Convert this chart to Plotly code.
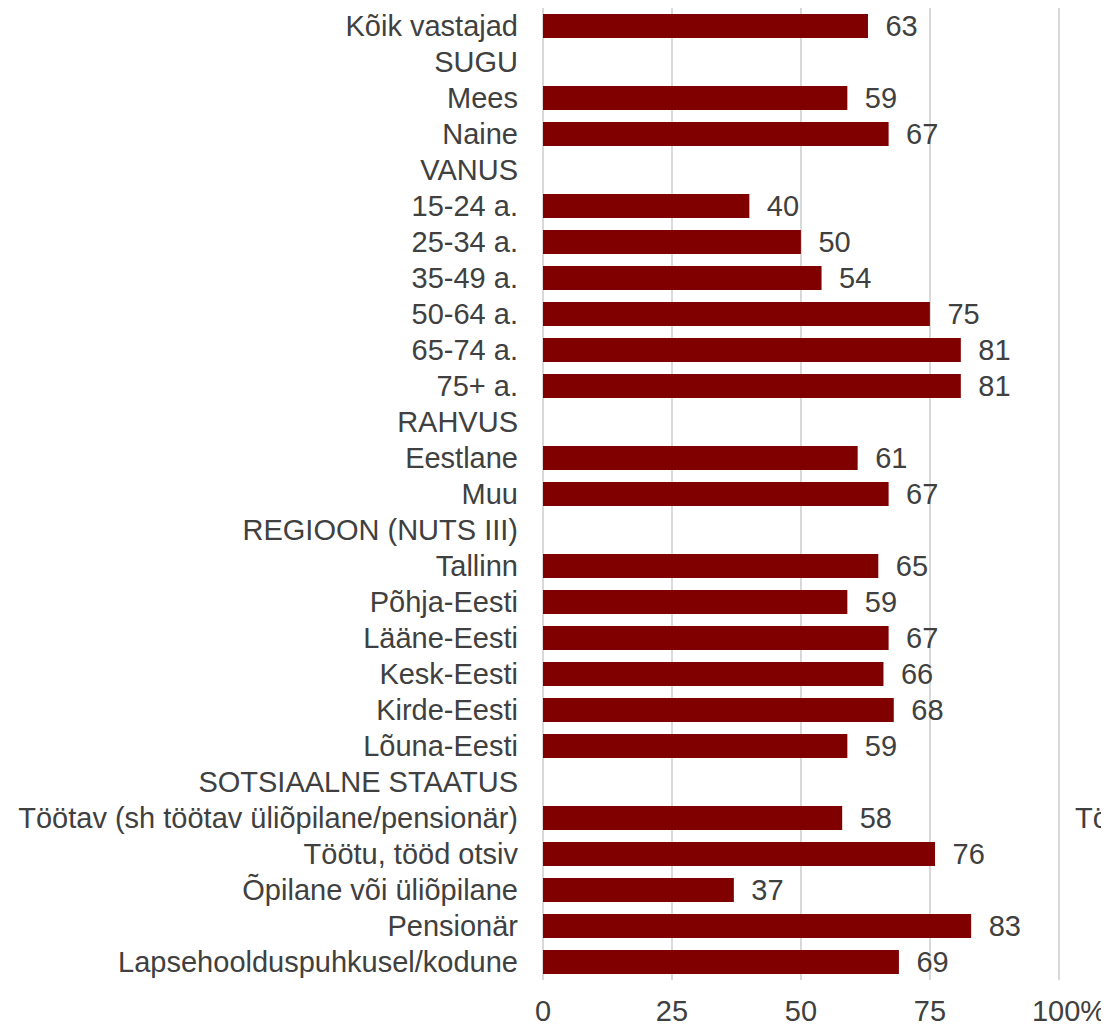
import plotly.graph_objects as go

categories = [
    "Kõik vastajad", "SUGU", "Mees", "Naine", "VANUS",
    "15-24 a.", "25-34 a.", "35-49 a.", "50-64 a.", "65-74 a.", "75+ a.",
    "RAHVUS", "Eestlane", "Muu", "REGIOON (NUTS III)",
    "Tallinn", "Põhja-Eesti", "Lääne-Eesti", "Kesk-Eesti", "Kirde-Eesti", "Lõuna-Eesti",
    "SOTSIAALNE STAATUS",
    "Töötav (sh töötav üliõpilane/pensionär)", "Töötu, tööd otsiv",
    "Õpilane või üliõpilane", "Pensionär", "Lapsehoolduspuhkusel/kodune",
]
values = [
    63, None, 59, 67, None,
    40, 50, 54, 75, 81, 81,
    None, 61, 67, None,
    65, 59, 67, 66, 68, 59,
    None,
    58, 76, 37, 83, 69,
]
tick_vals = [0, 25, 50, 75, 100]
tick_text = ["0", "25", "50", "75", "\u2002\u2009100%"]
side_text = "Tö"

FONT = "Liberation Sans, Arial, sans-serif"
TXT = "#404040"
FS = 29

fig = go.Figure(go.Bar(
    y=categories, x=values, orientation="h",
    marker=dict(color="#800000", line=dict(width=0)),
    text=[("" if v is None else str(v)) for v in values],
    texttemplate="\u2002%{text}",
    textposition="outside",
    constraintext="none",
    textfont=dict(family=FONT, size=FS, color=TXT),
    cliponaxis=False,
    width=0.66,
))

fig.add_annotation(
    x=1.017, y=categories[22], xref="paper", yref="y",
    text=side_text, showarrow=False, xanchor="left",
    font=dict(family=FONT, size=FS, color=TXT),
)

fig.update_layout(
    width=1101, height=1019,
    margin=dict(l=535, r=45, t=0, b=47, pad=0),
    paper_bgcolor="white", plot_bgcolor="white",
    showlegend=False,
    font=dict(family=FONT, size=FS, color=TXT),
    xaxis=dict(
        range=[0, 101], tickvals=tick_vals, ticktext=tick_text,
        showgrid=True, gridcolor="#d9d9d9", gridwidth=2,
        zeroline=True, zerolinecolor="#d9d9d9", zerolinewidth=2,
        tickfont=dict(family=FONT, size=FS, color=TXT),
        ticklabelstandoff=11, ticklabeloverflow="allow",
        fixedrange=True, automargin=False,
    ),
    yaxis=dict(
        categoryorder="array", categoryarray=categories,
        autorange="reversed",
        tickfont=dict(family=FONT, size=FS, color=TXT),
        ticklabelstandoff=24, showgrid=False, automargin=False,
    ),
)

fig.write_html("out.html")
